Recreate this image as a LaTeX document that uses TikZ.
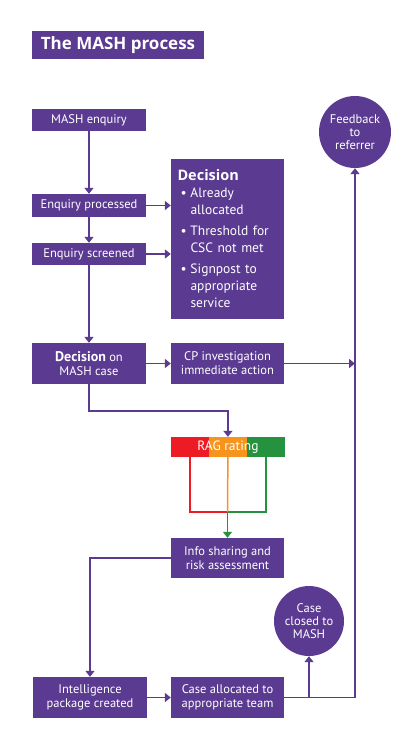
\documentclass[tikz,border=0pt]{standalone}
\usepackage{fontspec}
\setmainfont{PT Sans}
\newfontfamily\headfont{Open Sans}
\usetikzlibrary{arrows.meta,positioning}
\definecolor{mashpurple}{HTML}{5B3A91}
\definecolor{ragred}{HTML}{ED1C24}
\definecolor{ragorange}{HTML}{F7941D}
\definecolor{raggreen}{HTML}{25923F}

\newcommand{\decitem}[2]{\makebox[13bp][l]{\hspace{3bp}\textbullet}#1\\\hspace*{13bp}#2}

\tikzset{mashbox/.style = {fill=mashpurple, text=white, inner sep=0pt, align=center,
                           minimum width=114bp, minimum height=#1,
                           font=\fontsize{12.5bp}{14bp}\selectfont},
         mashbox/.default=22bp,
         mashcircle/.style = {circle, fill=mashpurple, text=white, inner sep=0pt, align=center,
                              minimum size=#1, font=\fontsize{12.5bp}{13bp}\selectfont},
         mashcircle/.default=72bp,
         ragcell/.style = {fill=#1, inner sep=0pt, minimum width=37.7bp, minimum height=20bp},
         flow/.style = {draw=mashpurple, line width=1.5bp,
                        -{Triangle[width=9bp,length=6bp]}},
         ragline/.style = {draw=#1, line width=1.5bp}
        }

\begin{document}
\begin{tikzpicture}[x=1bp, y=-1bp]
  \useasboundingbox (0,0) rectangle (400,748);
  \node[fill=mashpurple, text=white, minimum width=172bp, minimum height=28bp, inner sep=0pt,
        font=\headfont\bfseries\fontsize{17bp}{18bp}\selectfont] (title) at (118,45) {The MASH process};

  \node[mashbox] (enquiry) at (89,120) {MASH enquiry};
  \node[mashbox=23bp] (processed) at (89,205.5) {Enquiry processed};
  \node[mashbox] (screened) at (89,254) {Enquiry screened};
  \node[mashbox, minimum width=113bp, minimum height=160bp, text width=100bp, align=left,
        font=\fontsize{13.5bp}{17bp}\selectfont] (decision) at (227.5,239)
       {{\headfont\bfseries\fontsize{14.5bp}{17bp}\selectfont Decision}\\
        \decitem{Already}{allocated}\\[4bp]
        \decitem{Threshold for}{CSC not met}\\[4bp]
        \decitem{Signpost to}{appropriate}\\\hspace*{13bp}service};
  \node[mashbox=41bp] (mashdecision) at (89,363.5) {\textbf{\fontsize{14bp}{14bp}\selectfont Decision} on\\MASH case};
  \node[mashbox=41bp, minimum width=113bp] (cp) at (227.5,363.5) {CP investigation\\immediate action};
  \node[mashcircle] (feedback) at (355,132) {Feedback\\to\\referrer};

  \node[ragcell=ragred] (ragR) at (189.8,447) {};
  \node[ragcell=ragorange, right=0pt of ragR] (ragO) {};
  \node[ragcell=raggreen, right=0pt of ragO] (ragG) {};
  \node[text=white, font=\fontsize{13.5bp}{14bp}\selectfont] (ragtext) at (ragO) {RAG rating};
  \coordinate (ragjoin) at (227.5,512);

  \node[mashbox=40bp, minimum width=113bp] (info) at (227.5,558) {Info sharing and\\risk assessment};
  \node[mashbox=41bp] (intel) at (90,697.5) {Intelligence\\package created};
  \node[mashbox=41bp, minimum width=113bp] (allocated) at (227.5,697.5) {Case allocated to\\appropriate team};
  \node[mashcircle=70bp] (closed) at (309,621) {Case\\closed to\\MASH};

  \draw[flow] (enquiry) -- (processed);
  \draw[flow] (processed) -- (screened);
  \draw[flow] (processed.east) -- (processed.east -| decision.west);
  \draw[flow] (screened.east) -- (screened.east -| decision.west);
  \draw[flow] (screened) -- (mashdecision);
  \draw[flow] (mashdecision) -- (cp);
  \draw[flow] (cp.east) -- (cp.east -| feedback.south);
  \draw[flow] (mashdecision.south) -- ++(0,27) -| (ragO.north);

  \draw[ragline=ragred] (ragR.south) |- (ragjoin);
  \draw[ragline=ragorange] (ragO.south) -- (ragjoin);
  \draw[ragline=raggreen] (ragG.south) |- (ragjoin);
  \draw[flow, draw=raggreen, fill=raggreen] (ragjoin) -- (info.north);

  \draw[flow] (info.west) -| (intel.north);
  \draw[flow] (intel) -- (allocated);
  \draw[flow] (allocated.east) -| (feedback.south);
  \draw[flow] (allocated.east -| closed.south) -- (closed.south);
\end{tikzpicture}
\end{document}
